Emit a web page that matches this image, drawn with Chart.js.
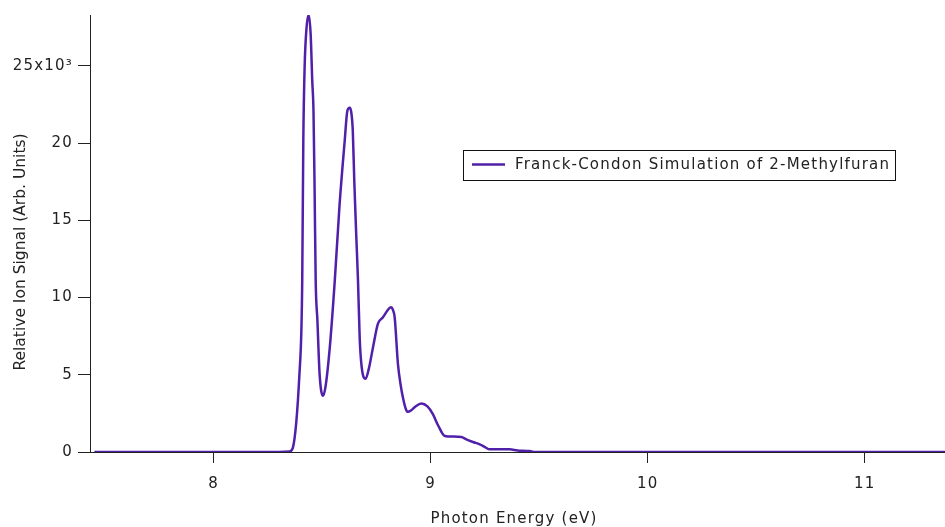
<!DOCTYPE html>
<html>
<head>
<meta charset="utf-8">
<script src="https://cdn.jsdelivr.net/npm/chart.js@4"></script>
<style>
  html, body { margin: 0; padding: 0; background: #fff; }
</style>
</head>
<body>
<canvas id="fc" width="945" height="527"></canvas>
<script>
// photon energy (eV) and ion signal
const energy = [7.45, 8.0, 8.30, 8.35, 8.365, 8.381, 8.395, 8.404, 8.408, 8.413, 8.419, 8.428, 8.438, 8.447, 8.454, 8.460, 8.465, 8.470, 8.478, 8.488, 8.504, 8.515, 8.535, 8.558, 8.58, 8.604, 8.616, 8.627, 8.634, 8.641, 8.648, 8.657, 8.665, 8.673, 8.682, 8.700, 8.715, 8.734, 8.757, 8.780, 8.800, 8.816, 8.826, 8.834, 8.849, 8.862, 8.872, 8.885, 8.895, 8.91, 8.93, 8.957, 8.985, 9.010, 9.035, 9.065, 9.10, 9.141, 9.164, 9.195, 9.226, 9.25, 9.272, 9.32, 9.364, 9.40, 9.456, 9.475, 10.0, 11.0, 11.37];
const signal = [0, 0, 0, 30, 280, 2000, 5000, 7860, 11100, 20200, 24900, 27500, 28300, 27000, 24100, 22000, 17000, 11100, 8500, 5060, 3640, 4200, 6770, 11100, 16000, 20200, 22100, 22300, 22000, 20800, 17500, 14000, 11100, 7300, 5500, 4740, 5400, 6770, 8310, 8720, 9150, 9370, 9200, 8720, 5710, 4300, 3530, 2800, 2600, 2700, 2950, 3140, 2950, 2450, 1700, 1040, 1000, 970, 820, 650, 500, 320, 170, 170, 170, 100, 60, 0, 0, 0, 0];
const yTicks = [0, 5000, 10000, 15000, 20000, 25000];
const xTicks = [8, 9, 10, 11];
const yTitle = 'Relative Ion Signal (Arb. Units)';
const xTitle = 'Photon Energy (eV)';

const FONT = '"DejaVu Sans", Verdana, sans-serif';
const INK = '#222';
const SPACING = '1.2px';

const spacing = {
  id: 'spacing',
  beforeUpdate(chart) { chart.ctx.letterSpacing = SPACING; },
  beforeDraw(chart) { chart.ctx.letterSpacing = SPACING; }
};

const extras = {
  id: 'extras',
  afterDraw(chart) {
    const c = chart.ctx;
    const ds = chart.data.datasets[0];
    c.save();
    // legend
    c.strokeStyle = '#111';
    c.lineWidth = 1;
    c.strokeRect(463.5, 150.5, 432, 30);
    c.strokeStyle = ds.borderColor;
    c.lineWidth = 2.5;
    c.beginPath();
    c.moveTo(472, 164.5);
    c.lineTo(505, 164.5);
    c.stroke();
    c.fillStyle = INK;
    c.font = '15px ' + FONT;
    c.letterSpacing = SPACING;
    c.textBaseline = 'middle';
    c.textAlign = 'left';
    c.fillText(ds.label, 515, 165);
    // x title
    c.textAlign = 'center';
    c.fillText(xTitle, 514, 519);
    // y title
    c.letterSpacing = '0px';
    c.font = '15.5px ' + FONT;
    c.translate(21, 252);
    c.rotate(-Math.PI / 2);
    c.fillText(yTitle, 0, 0);
    c.restore();
  }
};

new Chart(document.getElementById('fc'), {
  type: 'line',
  data: {
    datasets: [{
      label: 'Franck-Condon Simulation of 2-Methylfuran',
      data: energy.map((e, i) => ({ x: e, y: signal[i] })),
      borderColor: '#5020aa',
      borderWidth: 2.5,
      pointRadius: 0,
      fill: false,
      cubicInterpolationMode: 'monotone'
    }]
  },
  options: {
    responsive: false,
    devicePixelRatio: 1,
    animation: false,
    layout: { padding: { top: 15, right: 0, left: 0, bottom: 0 } },
    plugins: { legend: { display: false }, tooltip: { enabled: false } },
    scales: {
      x: {
        type: 'linear',
        min: 7.43,
        max: 11.37,
        afterBuildTicks: s => { s.ticks = xTicks.map(v => ({ value: v })); },
        afterFit: s => { s.height = 75; },
        border: { display: true, color: INK, width: 1 },
        grid: { drawOnChartArea: false, drawTicks: true, tickLength: 11, color: INK },
        ticks: { color: INK, font: { family: FONT, size: 15 }, padding: 12, maxRotation: 0 }
      },
      y: {
        min: 0,
        max: 28300,
        afterBuildTicks: s => { s.ticks = yTicks.map(v => ({ value: v })); },
        afterFit: s => { s.width = 90; },
        border: { display: true, color: INK, width: 1 },
        grid: { drawOnChartArea: false, drawTicks: true, tickLength: 12, color: INK },
        ticks: {
          color: INK, font: { family: FONT, size: 15 }, padding: 5,
          callback: v => v === 25000 ? '25x10\u00b3' : String(v / 1000)
        }
      }
    }
  },
  plugins: [spacing, extras]
});
</script>
</body>
</html>
